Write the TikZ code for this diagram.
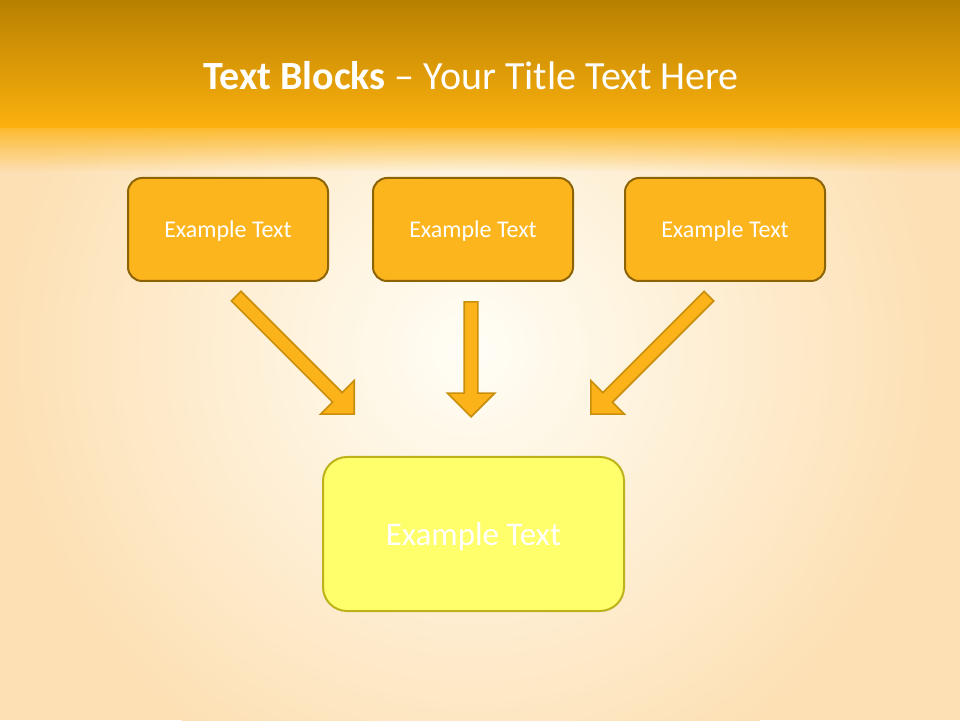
\documentclass[tikz,border=0pt]{standalone}
\usepackage{fontspec}
\setmainfont{Carlito}
\usetikzlibrary{shapes.arrows,fadings}
\definecolor{barTop}{HTML}{B88000}
\definecolor{barBottom}{HTML}{FCB10E}
\definecolor{bgPeach}{HTML}{FDE0B4}
\definecolor{bgGlow}{HTML}{FFFEF6}
\definecolor{boxFill}{HTML}{FDB51E}
\definecolor{boxLine}{HTML}{8C6405}
\definecolor{arrowFill}{HTML}{FCB31A}
\definecolor{arrowLine}{HTML}{C88E0C}
\definecolor{sumFill}{HTML}{FFFF6B}
\definecolor{sumLine}{HTML}{BDB21A}
\tikzfading[name=fade down, top color=transparent!0, bottom color=transparent!100]
\begin{document}
\begin{tikzpicture}[x=1pt, y=1pt]
        \tikzstyle{block}=[rectangle, rounded corners=14pt, draw=boxLine, fill=boxFill, line width=2pt,
          minimum width=200pt, minimum height=103pt, text=white, text depth=0pt,
          font=\fontsize{24}{28}\selectfont]
        \tikzstyle{blockarrow}=[single arrow, draw=arrowLine, fill=arrowFill, line width=1.6pt,
          single arrow tip angle=90, single arrow head extend=17pt, inner sep=6pt, anchor=tip]
        \useasboundingbox (0,0) rectangle (960,720);

        % background
        \fill [bgPeach] (0,0) rectangle (960,720);
        \shade [inner color=bgGlow, outer color=bgPeach] (471,370) circle (470);
        \fill [barBottom!80!bgPeach, path fading=fade down] (-40,548) rectangle (1000,592);
        \shade [top color=barTop, bottom color=barBottom] (0,592) rectangle (960,720);

        \path (471, 644) node (title) [text=white, font=\fontsize{40}{46}\selectfont]
          {\textbf{Text Blocks} -- Your Title Text Here};

        \foreach \i/\x in {0/228, 1/473, 2/725}
        {
          \path (\x, 490.5) node [block] (b\i) {Example Text};
        }

        \path (473.5, 186) node [block, rounded corners=24pt, draw=sumLine, fill=sumFill,
          minimum width=301pt, minimum height=154pt, font=\fontsize{33}{38}\selectfont] (sum) {Example Text};

        \path (355, 305) node [blockarrow, minimum height=167pt, rotate=-45] (a0) {};
        \path (471, 302) node [blockarrow, minimum height=115pt, rotate=-90] (a1) {};
        \path (590, 305) node [blockarrow, minimum height=167pt, rotate=-135] (a2) {};
      \end{tikzpicture}
\end{document}
